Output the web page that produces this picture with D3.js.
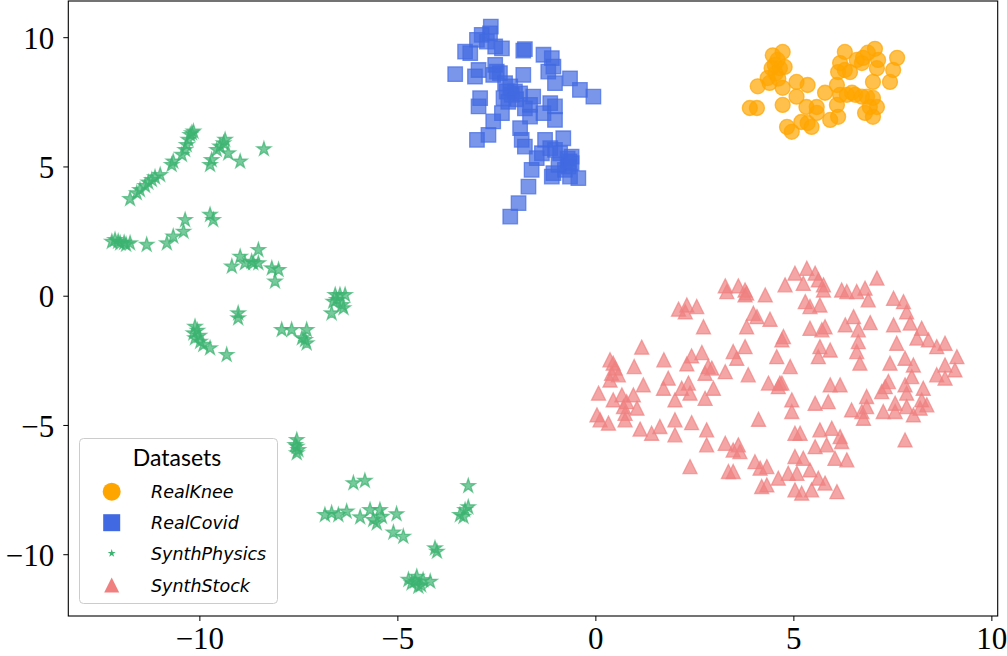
<!DOCTYPE html>
<meta charset="utf-8">
<script src="https://d3js.org/d3.v7.min.js"></script>
<style>
  body { margin: 0; background: #fff; }
</style>
<div id="chart"></div>
<script>
// data (t-SNE style coordinates)
const datasetNames = ["RealKnee", "RealCovid", "SynthPhysics", "SynthStock"];
const xTicks = [-10, -5, 0, 5, 10];
const yTicks = [-10, -5, 0, 5, 10];

const realKnee = [
  [4.48, 9.3], [4.73, 9.43], [4.53, 8.93], [4.66, 8.8], [4.78, 8.85], [4.45, 8.8], [4.6, 9.12],
  [4.35, 8.42], [4.4, 8.23], [4.1, 8.1], [3.9, 7.26], [4.08, 7.26], [4.73, 8.04], [5.08, 8.27],
  [5.36, 8.15], [5.08, 7.7], [4.73, 7.38], [5.33, 7.3], [5.59, 7.3], [5.59, 7.07], [5.2, 6.72],
  [5.36, 6.68], [5.46, 6.53], [4.84, 6.53], [4.96, 6.34], [5.8, 7.85], [5.93, 6.8], [6.13, 6.92],
  [6.1, 8.15], [6.13, 8.65], [6.3, 9.43], [6.18, 7.77], [6.1, 7.38], [6.35, 7.77], [6.48, 7.85],
  [6.3, 8.73], [6.43, 8.65], [6.6, 9.12], [6.73, 9.0], [6.76, 9.2], [6.88, 9.4], [7.06, 9.55],
  [7.14, 9.12], [7.11, 8.8], [6.56, 7.77], [6.73, 7.7], [6.86, 7.7], [7.01, 7.65], [7.11, 7.3],
  [6.93, 7.3], [6.81, 7.07], [7.01, 6.92], [7.01, 8.27], [7.44, 8.27], [7.52, 8.73], [7.62, 9.2],
  [6.18, 9.0], [4.55, 8.6], [4.62, 8.4]
];

const realCovid = [
  [-2.64, 10.41], [-2.66, 10.15], [-2.87, 10.09], [-2.99, 9.9], [-2.74, 9.83], [-2.53, 9.64],
  [-2.36, 9.57], [-3.16, 9.38], [-3.29, 9.44], [-1.78, 9.54], [-1.82, 9.48], [-1.31, 9.32],
  [-1.1, 9.19], [-1.06, 8.86], [-1.19, 8.67], [-1.02, 8.22], [-0.64, 8.41], [-0.39, 7.96],
  [-0.05, 7.7], [-3.54, 8.57], [-3.04, 8.48], [-2.95, 8.73], [-2.53, 8.93], [-2.49, 8.67],
  [-2.41, 8.61], [-2.58, 8.54], [-1.82, 8.54], [-2.91, 7.64], [-2.95, 7.32], [-2.28, 8.22],
  [-2.24, 7.9], [-2.11, 7.77], [-2.32, 7.64], [-2.03, 7.9], [-1.9, 7.83], [-1.57, 7.7],
  [-1.65, 7.38], [-1.78, 7.25], [-1.65, 6.93], [-1.31, 7.06], [-1.14, 7.45], [-1.02, 7.32],
  [-1.02, 6.8], [-2.36, 7.06], [-2.58, 6.74], [-2.7, 6.22], [-2.99, 6.03], [-1.9, 6.48],
  [-1.86, 6.03], [-1.78, 5.77], [-1.48, 5.32], [-1.61, 4.87], [-1.69, 4.22], [-1.94, 3.58],
  [-2.15, 3.06], [-1.27, 6.03], [-0.81, 6.09], [-1.14, 5.71], [-1.02, 5.64], [-1.35, 5.51],
  [-0.6, 5.38], [-0.6, 5.13], [-0.68, 4.99], [-0.77, 4.87], [-1.06, 4.74], [-1.1, 4.61],
  [-0.64, 4.61], [-0.43, 4.55], [-0.93, 5.06], [-0.89, 5.51], [-2.15, 8.1], [-2.0, 7.6],
  [-2.2, 7.5], [-0.7, 5.3], [-0.65, 5.2]
];

const synthPhysics = [
  [-11.75, 3.74], [-11.58, 3.97], [-11.5, 4.09], [-11.37, 4.25], [-11.29, 4.38], [-11.2, 4.48],
  [-11.12, 4.58], [-10.99, 4.67], [-10.7, 5.06], [-10.66, 5.19], [-10.44, 5.45], [-10.36, 5.64],
  [-10.32, 5.83], [-10.28, 6.03], [-10.23, 6.22], [-10.15, 6.35], [-10.19, 6.29],
  [-9.73, 5.06], [-9.69, 5.25], [-9.56, 5.64], [-9.48, 5.77], [-9.39, 5.9], [-9.35, 6.03],
  [-9.27, 5.51], [-8.97, 5.19], [-8.37, 5.67],
  [-9.73, 3.13], [-9.65, 2.93], [-10.36, 2.93], [-10.4, 2.48], [-10.66, 2.29], [-10.82, 2.03],
  [-11.33, 1.97], [-11.75, 2.03], [-12.0, 2.03], [-12.21, 2.09], [-12.13, 2.16], [-11.9, 2.05],
  [-12.05, 2.1], [-11.85, 1.98],
  [-8.51, 1.77], [-9.18, 1.13], [-8.97, 1.51], [-8.85, 1.26], [-8.68, 1.32], [-8.51, 1.26],
  [-8.64, 1.26], [-8.17, 1.06], [-8.0, 1.0], [-8.09, 0.55],
  [-6.57, 0.03], [-6.45, 0.03], [-6.32, 0.03], [-6.62, -0.23], [-6.66, -0.68], [-6.4, -0.36],
  [-6.36, -0.48], [-6.53, -0.16], [-9.02, -0.68], [-9.02, -0.87],
  [-10.11, -1.2], [-10.15, -1.45], [-10.11, -1.64], [-9.98, -1.78], [-9.9, -1.9], [-9.73, -2.03],
  [-9.31, -2.29], [-10.05, -1.35], [-10.0, -1.55],
  [-7.92, -1.32], [-7.67, -1.32], [-7.41, -1.64], [-7.29, -1.32], [-7.29, -1.84], [-7.33, -1.71],
  [-7.54, -5.58], [-7.54, -5.84], [-7.54, -6.09], [-7.5, -5.97], [-7.58, -5.77],
  [-6.11, -7.25], [-5.82, -7.16], [-3.21, -7.36],
  [-6.83, -8.48], [-6.66, -8.41], [-6.49, -8.48], [-6.28, -8.35], [-5.94, -8.57], [-5.69, -8.29],
  [-5.61, -8.67], [-5.44, -8.29], [-5.52, -8.8], [-5.39, -8.55], [-5.02, -8.45], [-5.1, -9.16],
  [-4.85, -9.32], [-3.42, -8.48], [-3.29, -8.29], [-3.21, -8.18], [-3.33, -8.55],
  [-4.05, -9.77], [-4.0, -9.9],
  [-4.72, -10.99], [-4.51, -10.87], [-4.47, -11.25], [-4.17, -11.06], [-4.64, -11.12],
  [-4.35, -11.0], [-4.4, -11.2], [-4.55, -11.05]
];

const synthStock = [
  [3.28, 0.38], [3.32, 0.16], [3.61, 0.38], [3.78, 0.22], [3.82, 0.10], [3.78, 0.03], [4.29, 0.03],
  [4.79, 0.42], [2.10, -0.52], [2.31, -0.36], [2.56, -0.42], [2.27, -0.62], [2.73, -1.20],
  [3.99, -0.68], [4.08, -0.81], [3.82, -1.20], [4.41, -0.91], [4.71, -1.71], [1.17, -1.99],
  [0.37, -2.48], [0.45, -2.61], [0.50, -2.80], [0.41, -3.00], [0.58, -3.06], [0.37, -3.26],
  [0.98, -2.74], [1.73, -2.48], [2.31, -2.64], [2.43, -2.33], [2.69, -2.20], [2.85, -2.74],
  [2.77, -3.00], [2.94, -2.80], [3.28, -2.94], [3.48, -2.16], [3.57, -2.42], [3.78, -1.97],
  [3.86, -3.06], [0.08, -3.77], [0.45, -4.03], [0.67, -3.84], [0.79, -4.10], [0.96, -3.84],
  [0.71, -4.29], [0.75, -4.55], [1.05, -4.35], [1.21, -3.45], [0.75, -4.80], [1.84, -3.19],
  [1.72, -3.58], [2.01, -4.03], [2.18, -3.58], [2.35, -3.38], [2.39, -3.77], [2.77, -3.97],
  [2.98, -3.58], [0.04, -4.61], [0.12, -4.80], [0.33, -4.93], [1.13, -5.16], [1.42, -5.32],
  [1.63, -5.06], [2.01, -4.80], [2.01, -5.38], [2.43, -4.91], [2.81, -5.19], [2.81, -5.77],
  [3.28, -5.71], [3.48, -5.97], [3.61, -5.77], [3.65, -6.03], [4.12, -4.78], [4.37, -3.38],
  [4.71, -3.38], [2.39, -6.61], [3.36, -6.80], [3.48, -6.80], [4.03, -6.42], [4.16, -6.67],
  [4.33, -6.61], [4.62, -7.06], [4.20, -7.38], [4.33, -7.32],
  [5.04, 0.87], [5.34, 1.06], [5.55, 0.87], [5.25, 0.48], [5.63, 0.61], [5.76, 0.42], [5.76, 0.22],
  [6.22, 0.22], [6.35, 0.16], [6.60, 0.16], [6.81, 0.29], [6.89, -0.16], [7.11, 0.68],
  [5.30, -0.23], [5.42, -0.42], [5.67, -0.36], [6.52, -0.81], [6.31, -1.13], [6.64, -1.32],
  [6.94, -1.04], [5.42, -1.26], [5.72, -1.32], [5.80, -1.20], [5.67, -1.97], [5.93, -2.10],
  [5.63, -2.36], [6.64, -1.78], [6.60, -2.16], [6.68, -2.61], [7.53, -0.10], [7.78, -0.23],
  [7.86, -0.62], [7.53, -1.13], [7.95, -1.06], [8.24, -1.26], [8.12, -1.64], [7.61, -1.84],
  [8.41, -1.71], [8.62, -1.97], [8.83, -1.84], [9.13, -2.36], [8.83, -2.68], [8.62, -3.06],
  [8.83, -3.19], [9.08, -2.87], [7.82, -2.42], [8.03, -2.68], [7.44, -2.61], [7.99, -3.13],
  [4.75, -1.58], [4.58, -2.36], [4.92, -2.74], [4.66, -3.38], [4.62, -3.52], [5.93, -3.45],
  [6.18, -3.45], [7.40, -3.32], [7.32, -3.52], [7.23, -3.71], [7.82, -3.45], [7.86, -3.77],
  [8.28, -3.58], [6.85, -3.90], [6.47, -4.42], [6.73, -4.48], [6.77, -4.74], [6.85, -4.29],
  [7.27, -4.48], [7.57, -4.16], [7.57, -4.48], [7.86, -4.29], [8.03, -4.61], [8.24, -4.03],
  [8.37, -4.22], [8.20, -4.35], [4.96, -4.03], [4.96, -4.48], [5.55, -4.16], [5.88, -4.10],
  [5.04, -5.32], [5.17, -5.32], [5.67, -5.19], [5.97, -5.13], [6.18, -5.45], [6.22, -5.64],
  [5.55, -5.84], [5.84, -5.77], [5.04, -6.22], [5.25, -6.29], [6.05, -6.29], [6.35, -6.35],
  [7.82, -5.58], [4.87, -6.87], [5.09, -6.87], [5.42, -6.74], [5.63, -7.06], [5.80, -7.25],
  [5.04, -7.51], [5.21, -7.64], [5.46, -7.51], [6.10, -7.58]
];

// layout
const W = 1007, H = 656;
const plot = { left: 68.3, top: 1, right: 997.7, bottom: 616 };

const svg = d3.select("#chart").append("svg")
  .attr("width", W)
  .attr("height", H);

const x = d3.scaleLinear().domain([-13.31, 10.16]).range([plot.left, plot.right]);
const y = d3.scaleLinear().domain([-12.39, 11.40]).range([plot.bottom, plot.top]);

// marker shapes, matplotlib-like
const shapes = {
  circle: r => `M${-r},0A${r},${r} 0 1,0 ${r},0A${r},${r} 0 1,0 ${-r},0Z`,
  square: s => `M${-s / 2},${-s / 2}h${s}v${s}h${-s}Z`,
  star: size => d3.symbol(d3.symbolStar, size)(),
  triangle: s => `M0,${-s / 2}L${s / 2},${s / 2}L${-s / 2},${s / 2}Z`
};

const series = [
  { name: datasetNames[0], data: realKnee, color: "#FFA500", path: shapes.circle(7.5), legend: shapes.circle(9) },
  { name: datasetNames[1], data: realCovid, color: "#4169E1", path: shapes.square(14.5), legend: shapes.square(17) },
  { name: datasetNames[2], data: synthPhysics, color: "#3CB371", path: shapes.star(62), legend: shapes.star(20) },
  { name: datasetNames[3], data: synthStock, color: "#F08080", path: shapes.triangle(14), legend: shapes.triangle(15) }
];

// points
series.forEach(s => {
  svg.append("g")
    .selectAll("path")
    .data(s.data)
    .join("path")
    .attr("d", s.path)
    .attr("transform", d => `translate(${x(d[0])},${y(d[1])})`)
    .attr("fill", s.color)
    .attr("fill-opacity", 0.7)
    .attr("stroke", s.color)
    .attr("stroke-opacity", 0.7)
    .attr("stroke-width", 1.3);
});

// frame
svg.append("rect")
  .attr("x", plot.left).attr("y", plot.top)
  .attr("width", plot.right - plot.left)
  .attr("height", plot.bottom - plot.top)
  .attr("fill", "none")
  .attr("stroke", "#000")
  .attr("stroke-width", 1.1);

const fmt = v => (v < 0 ? "\u2212" + Math.abs(v) : String(v));

// x axis
const xAxis = svg.append("g")
  .attr("transform", `translate(0,${plot.bottom})`)
  .call(d3.axisBottom(x).tickValues(xTicks).tickFormat(fmt).tickSize(5).tickPadding(6));
xAxis.select(".domain").remove();
xAxis.selectAll("text")
  .attr("font-family", "'Liberation Serif', 'DejaVu Serif', serif")
  .attr("font-size", 31)
  .attr("fill", "#000")
  .attr("dy", null)
  .attr("y", 33);

// y axis
const yAxis = svg.append("g")
  .attr("transform", `translate(${plot.left},0)`)
  .call(d3.axisLeft(y).tickValues(yTicks).tickFormat(fmt).tickSize(5).tickPadding(9));
yAxis.select(".domain").remove();
yAxis.selectAll("text")
  .attr("font-family", "'Liberation Serif', 'DejaVu Serif', serif")
  .attr("font-size", 31)
  .attr("fill", "#000")
  .attr("dy", "0.36em");

// legend
const legend = svg.append("g");
legend.append("rect")
  .attr("x", 79.5).attr("y", 438.5)
  .attr("width", 198).attr("height", 165)
  .attr("rx", 4)
  .attr("fill", "#fff")
  .attr("fill-opacity", 0.8)
  .attr("stroke", "#cccccc")
  .attr("stroke-width", 1);

legend.append("text")
  .attr("x", 177).attr("y", 466)
  .attr("text-anchor", "middle")
  .attr("font-family", "Lato, 'Noto Sans', sans-serif")
  .attr("font-size", 23)
  .attr("fill", "#000")
  .text("Datasets");

const rowY = [491.7, 522.7, 553.3, 585];
series.forEach((s, i) => {
  legend.append("path")
    .attr("d", s.legend)
    .attr("transform", `translate(111.7,${rowY[i]})`)
    .attr("fill", s.color);
  legend.append("text")
    .attr("x", 151).attr("y", rowY[i] + 6.5)
    .attr("font-family", "'DejaVu Sans', sans-serif")
    .attr("font-style", "italic")
    .attr("font-size", 17.5)
    .attr("fill", "#000")
    .text(s.name);
});
</script>
